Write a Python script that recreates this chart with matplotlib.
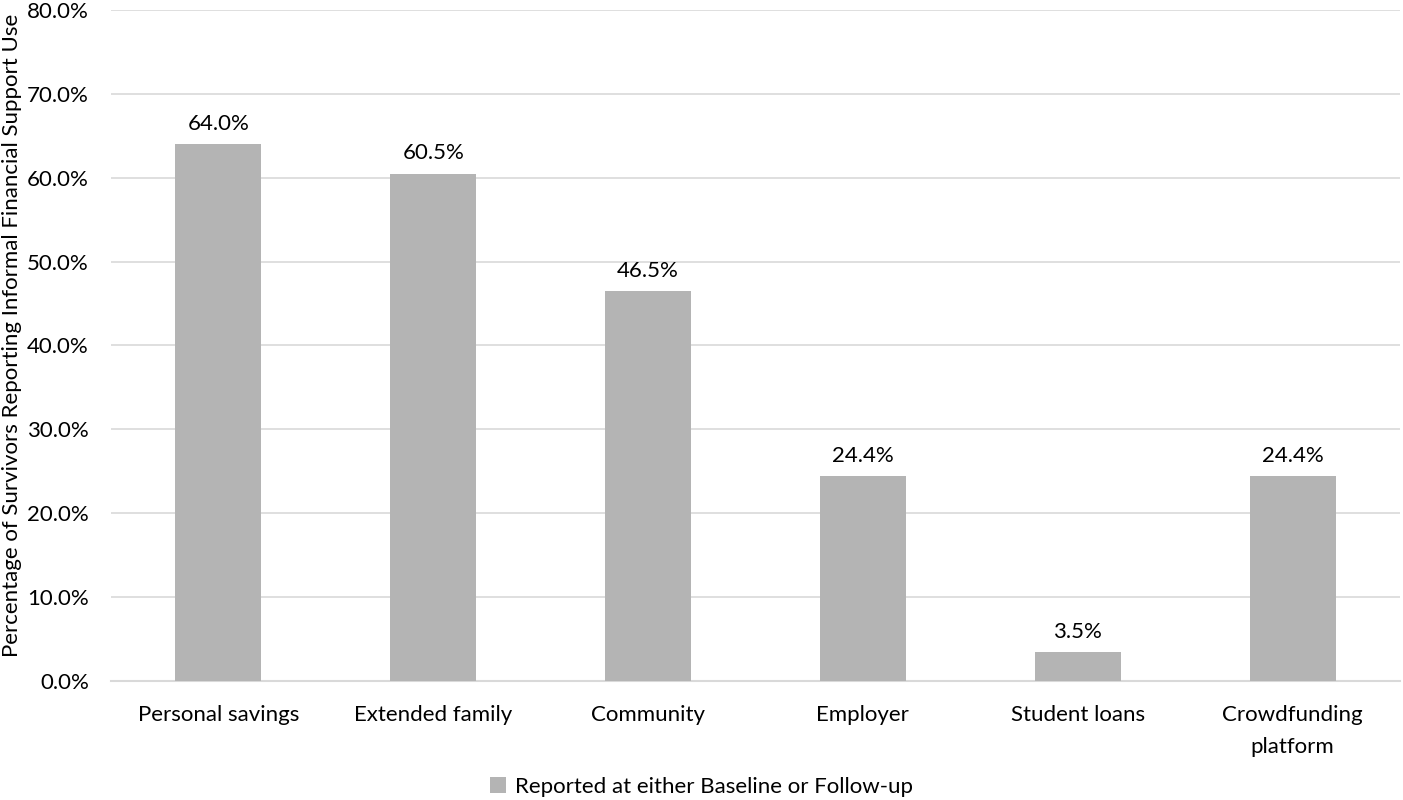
import matplotlib
matplotlib.use("Agg")
import matplotlib.pyplot as plt
from matplotlib.ticker import FuncFormatter

plt.rcParams["font.family"] = ["Lato", "DejaVu Sans"]

categories = ["Personal savings", "Extended family", "Community", "Employer",
              "Student loans", "Crowdfunding\nplatform"]
values = [64.0, 60.5, 46.5, 24.4, 3.5, 24.4]
yticks = [0, 10, 20, 30, 40, 50, 60, 70, 80]
series_label = "Reported at either Baseline or Follow-up"
ylabel = "Percentage of Survivors Reporting Informal Financial Support Use"

BAR = "#b4b4b4"
GRID = "#d9d9d9"
TXT = "#000000"
FS = 16

fig = plt.figure(figsize=(14.03, 8.0), dpi=100)
ax = fig.add_axes([111 / 1403, 119 / 800, 1289 / 1403, 671 / 800])

x = range(len(categories))
bars = ax.bar(x, values, width=0.4, color=BAR, zorder=3, label=series_label)
for b, v in zip(bars, values):
    ax.text(b.get_x() + b.get_width() / 2, v + 1.2, f"{v:.1f}%",
            ha="center", va="bottom", fontsize=FS, color=TXT)

ax.set_xlim(-0.5, len(categories) - 0.5)
ax.set_ylim(0, 80)
ax.set_yticks(yticks)
ax.yaxis.set_major_formatter(FuncFormatter(lambda v, p: f"{v:.1f}%"))
ax.set_xticks(list(x))
ax.set_xticklabels(categories, fontsize=FS, color=TXT, va="top", linespacing=1.75)
ax.tick_params(axis="y", labelsize=FS, length=0, pad=16, labelcolor=TXT)
ax.tick_params(axis="x", length=0, pad=17)
ax.grid(axis="y", color=GRID, linewidth=1.2, zorder=0)
for sp in ("top", "right", "left"):
    ax.spines[sp].set_visible(False)
ax.spines["bottom"].set_color(GRID)
ax.spines["bottom"].set_linewidth(1.5)

fig.text(2 / 1403, 1 - 335 / 800, ylabel, rotation=90, ha="left", va="center",
         fontsize=FS, color=TXT)

fig.legend(loc="center", bbox_to_anchor=(0.5, 13 / 800), frameon=False, fontsize=FS,
           handlelength=0.7, handleheight=0.7, handletextpad=0.4)

fig.savefig("out.png", dpi=100)
